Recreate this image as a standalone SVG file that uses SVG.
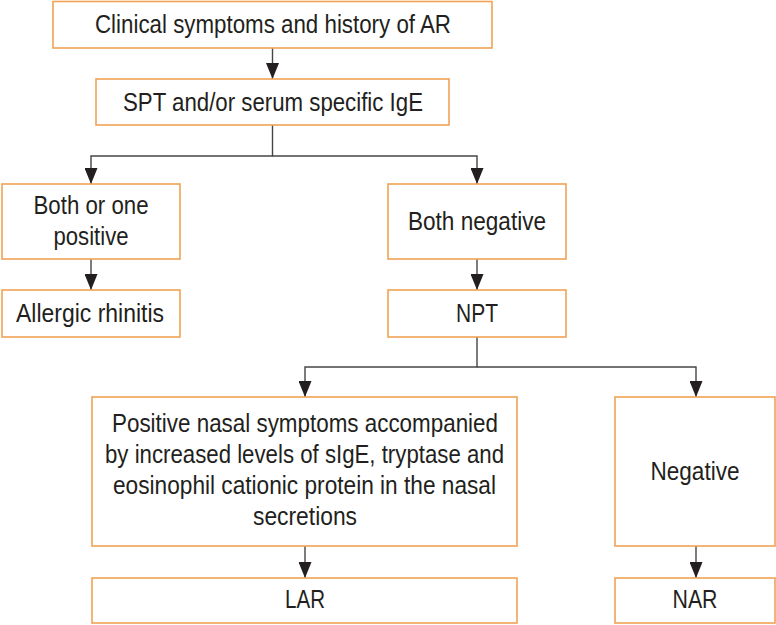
<svg xmlns="http://www.w3.org/2000/svg" width="776" height="625" viewBox="0 0 776 625">
<defs>
<style>
.box{fill:#fff;stroke:#F0A255;stroke-width:1.6}
.t{font-family:"Liberation Sans",Arial,sans-serif;font-size:25px;fill:#231F20;text-anchor:middle}
.ln{fill:none;stroke:#454545;stroke-width:1.4}
</style>
<marker id="ah" markerUnits="userSpaceOnUse" viewBox="0 0 16 13" markerWidth="16" markerHeight="13" refX="16" refY="6.5" orient="auto">
<path d="M0,0 L16,6.5 L0,13 z" fill="#231F20"/>
</marker>
</defs>
<rect width="776" height="625" fill="#fff"/>
<g id="connectors">
<path class="ln" d="M272.5,48 V79" marker-end="url(#ah)"/>
<path class="ln" d="M272.5,125 V156 H91 V184" marker-end="url(#ah)"/>
<path class="ln" d="M272.5,156 H477 V184" marker-end="url(#ah)"/>
<path class="ln" d="M91,259 V290" marker-end="url(#ah)"/>
<path class="ln" d="M477,259 V290" marker-end="url(#ah)"/>
<path class="ln" d="M477,337 V367 H305 V397" marker-end="url(#ah)"/>
<path class="ln" d="M477,367 H696 V397" marker-end="url(#ah)"/>
<path class="ln" d="M305,546 V578" marker-end="url(#ah)"/>
<path class="ln" d="M696,546 V578" marker-end="url(#ah)"/>
</g>
<g id="n1"><rect class="box" x="53" y="1.5" width="439" height="46.5"/><text class="t" x="273" y="33" textLength="356" lengthAdjust="spacingAndGlyphs">Clinical symptoms and history of AR</text></g>
<g id="n2"><rect class="box" x="96" y="79" width="353" height="46"/><text class="t" x="273" y="111" textLength="300" lengthAdjust="spacingAndGlyphs">SPT and/or serum specific IgE</text></g>
<g id="n3"><rect class="box" x="2" y="184" width="178" height="75"/><text class="t" x="91" y="214" textLength="115" lengthAdjust="spacingAndGlyphs">Both or one</text><text class="t" x="91" y="245" textLength="75" lengthAdjust="spacingAndGlyphs">positive</text></g>
<g id="n4"><rect class="box" x="388" y="184" width="178" height="75"/><text class="t" x="477" y="230" textLength="138" lengthAdjust="spacingAndGlyphs">Both negative</text></g>
<g id="n5"><rect class="box" x="2" y="290" width="178" height="47"/><text class="t" x="90" y="322" textLength="148" lengthAdjust="spacingAndGlyphs">Allergic rhinitis</text></g>
<g id="n6"><rect class="box" x="388" y="290" width="178" height="47"/><text class="t" x="477" y="322" textLength="42" lengthAdjust="spacingAndGlyphs">NPT</text></g>
<g id="n7"><rect class="box" x="92" y="397" width="425" height="149"/>
<text class="t" x="305" y="432" textLength="386" lengthAdjust="spacingAndGlyphs">Positive nasal symptoms accompanied</text>
<text class="t" x="304.5" y="463" textLength="399" lengthAdjust="spacingAndGlyphs">by increased levels of sIgE, tryptase and</text>
<text class="t" x="304.5" y="494" textLength="383" lengthAdjust="spacingAndGlyphs">eosinophil cationic protein in the nasal</text>
<text class="t" x="305" y="525" textLength="104" lengthAdjust="spacingAndGlyphs">secretions</text></g>
<g id="n8"><rect class="box" x="615" y="397" width="160" height="149"/><text class="t" x="695" y="480" textLength="89" lengthAdjust="spacingAndGlyphs">Negative</text></g>
<g id="n9"><rect class="box" x="92" y="578" width="425" height="45"/><text class="t" x="305" y="608" textLength="40" lengthAdjust="spacingAndGlyphs">LAR</text></g>
<g id="n10"><rect class="box" x="615" y="578" width="160" height="45"/><text class="t" x="695" y="608" textLength="45" lengthAdjust="spacingAndGlyphs">NAR</text></g>
</svg>
